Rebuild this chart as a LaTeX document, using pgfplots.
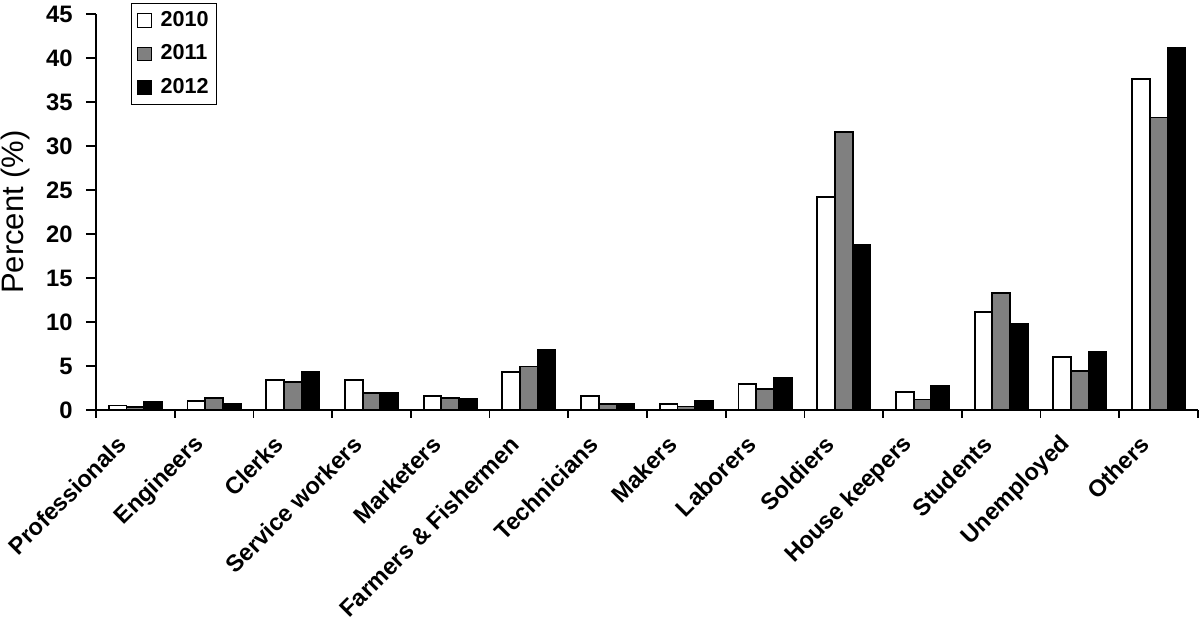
\documentclass[border=0pt]{standalone}
\usepackage{fontspec}
\setmainfont{Liberation Sans}
\usepackage{pgfplots}
\pgfplotsset{compat=1.18}
\usepackage{pgfplotstable}
\pgfplotstableread{
x y2010 y2011 y2012
0 0.5 0.35 0.9
1 1.05 1.35 0.7
2 3.4 3.2 4.3
3 3.4 1.9 1.9
4 1.55 1.35 1.25
5 4.3 4.95 6.85
6 1.55 0.65 0.7
7 0.7 0.4 1.05
8 2.95 2.4 3.65
9 24.25 31.6 18.8
10 2.05 1.2 2.75
11 11.1 13.3 9.75
12 6.0 4.45 6.55
13 37.6 33.25 41.2
}\datatable
\definecolor{gr}{HTML}{808080}
\begin{document}
\begin{tikzpicture}
\begin{axis}[
  scale only axis,
  width=551pt, height=198pt,
  ybar=0pt, bar width=0.225,
  xmin=-0.5, xmax=13.5,
  ymin=0, ymax=45,
  axis x line*=bottom, axis y line*=left,
  axis line style={line width=1pt},
  ytick={0,5,...,45},
  xtick={0,...,13},
  xticklabels={Professionals,Engineers,Clerks,Service workers,Marketers,Farmers \& Fishermen,Technicians,Makers,Laborers,Soldiers,House keepers,Students,Unemployed,Others},
  minor xtick={-0.5,0.5,...,13.5},
  major x tick style={draw=none},
  minor x tick style={line width=0.8pt, black},
  minor tick length=4pt,
  y tick style={line width=0.8pt, black},
  major tick length=5pt,
  tick align=outside,
  /pgf/number format/assume math mode=true,
  yticklabel style={font=\fontsize{11.9}{14}\selectfont\bfseries, inner sep=2pt, xshift=-4.5pt},
  xticklabel style={font=\fontsize{11.8}{14}\selectfont\bfseries, yshift=-9.5pt, xshift=-6pt, rotate=45, anchor=east, inner sep=1pt},
  ylabel={Percent (\%)},
  ylabel style={font=\fontsize{15.5}{18}\selectfont, at={(axis description cs:-0.0735,0.5)}, anchor=center, rotate=0},
  legend style={at={(axis description cs:0.0318,1.0278)}, anchor=north west, draw=black, line width=0.6pt, font=\fontsize{10.8}{12}\selectfont\bfseries, row sep=3.6pt, inner sep=2pt, legend cell align=left},
  legend image code/.code={\draw[#1, line width=0.5pt] (1pt,-3.4pt) rectangle (7.85pt,3.4pt); \path[draw=none, fill=none] (0pt,0pt) rectangle (10.5pt,0.1pt);},
  clip=false,
]
\addplot[draw=black, fill=white, line width=0.9pt] table[x=x,y=y2010]{\datatable};
\addplot[draw=black, fill=gr, line width=0.9pt] table[x=x,y=y2011]{\datatable};
\addplot[draw=black, fill=black, line width=0.9pt] table[x=x,y=y2012]{\datatable};
\legend{2010,2011,2012}
\end{axis}
\pgfresetboundingbox
\path[use as bounding box] (-48pt,-105pt) rectangle (552pt,205pt);
\end{tikzpicture}
\end{document}
